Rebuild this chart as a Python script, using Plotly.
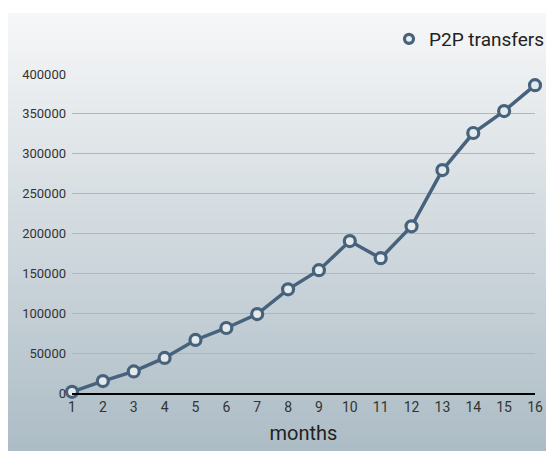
import plotly.graph_objects as go

months = list(range(1, 17))
transfers = [1500, 15000, 27000, 44000, 66500, 81500, 99000, 130000, 154000,
             190500, 169000, 209000, 279500, 326000, 353500, 386000]
series_name = "P2P transfers"
y_ticks = [0, 50000, 100000, 150000, 200000, 250000, 300000, 350000, 400000]
y_tick_text = [str(v) for v in y_ticks]

W, H = 554, 451
OFF = 8  # page body margin
L, R, T, B = 72 - OFF, 535 - OFF, 74 - OFF, 393 - OFF  # plot area in figure pixels

def px2x(px):
    return (px - OFF - L) / (R - L)

def py2y(py):
    return (B - (py - OFF)) / (B - T)

def lerp(c0, c1, t):
    return tuple(round(a + (b - a) * t) for a, b in zip(c0, c1))

top_c = (246, 247, 248)
bot_c = (172, 188, 197)
shapes = []
y0, y1 = 13, 451
step = 2
py = y0
while py < y1:
    t = (py - y0) / (y1 - y0)
    c = lerp(top_c, bot_c, t)
    shapes.append(dict(type="rect", xref="paper", yref="paper",
                       x0=px2x(6), x1=px2x(W + 20), y0=py2y(py + step + 0.5), y1=py2y(py),
                       fillcolor="rgb(%d,%d,%d)" % c, line=dict(width=0), layer="below"))
    py += step

line_color = "#47627c"
fig = go.Figure()
fig.add_trace(go.Scatter(
    x=months, y=transfers, name=series_name, mode="lines+markers",
    line=dict(color=line_color, width=3.5),
    marker=dict(symbol="circle", size=11, color="#e4e9ec",
                line=dict(color=line_color, width=3.2)),
    cliponaxis=False, showlegend=False,
))
# legend entry shows the marker only, as in the reference
fig.add_trace(go.Scatter(
    x=[None], y=[None], name=series_name, mode="markers",
    marker=dict(symbol="circle", size=9, color="#eef0f2",
                line=dict(color=line_color, width=3.2)),
    showlegend=True,
))

font_family = "Roboto, sans-serif"
fig.update_layout(
    width=W, height=H,
    margin=dict(l=L, r=W - R, t=T, b=H - B),
    paper_bgcolor="white",
    plot_bgcolor="rgba(0,0,0,0)",
    shapes=shapes,
    showlegend=True,
    legend=dict(x=px2x(549), y=py2y(39), xanchor="right", yanchor="middle",
                font=dict(family=font_family, size=19, color="#222"),
                bgcolor="rgba(0,0,0,0)", itemwidth=30),
    xaxis=dict(range=[1, 16], tickvals=months, showgrid=False, zeroline=False,
               showline=True, linecolor="black", linewidth=1.5, ticks="",
               tickfont=dict(family=font_family, size=14, color="#333"),
               title=dict(text="months", font=dict(family=font_family, size=20, color="#222"),
                          standoff=12)),
    yaxis=dict(range=[0, 400000], tickvals=y_ticks, ticktext=y_tick_text,
               showgrid=True, gridcolor="#b3b6b8",
               gridwidth=1, zeroline=False, showline=False, ticks="",
               tickfont=dict(family=font_family, size=13, color="#333"),
               ticklabelstandoff=5),
)
fig.write_html("out.html")
